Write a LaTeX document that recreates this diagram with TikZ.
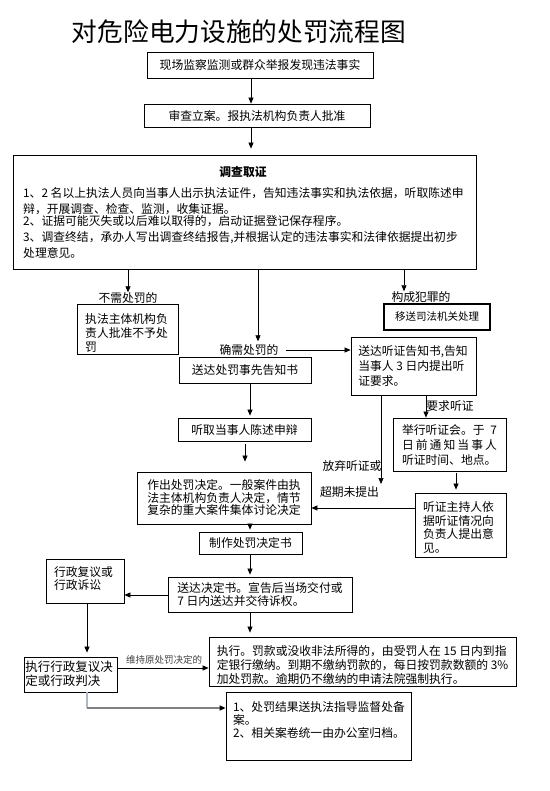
\documentclass[tikz,border=0pt]{standalone}
\usepackage{fontspec}
\setmainfont{Noto Sans CJK SC}
\usetikzlibrary{arrows.meta}
\begin{document}
\begin{tikzpicture}[x=1pt,y=-1pt,
  box/.style={draw=black, line width=0.8pt, inner sep=0pt, font=\fontsize{11.8pt}{14pt}\selectfont},
  txt/.style={inner sep=0pt, align=left, font=\fontsize{11.8pt}{#1}\selectfont},
  txt/.default=14pt,
  line/.style={inner sep=0pt, anchor=west, font=\fontsize{11.8pt}{14pt}\selectfont},
  lab/.style={inner sep=0pt, font=\fontsize{11.8pt}{14pt}\selectfont},
  arr/.style={draw=black, line width=0.7pt, -{Triangle[length=6pt,width=5pt]}},
]
\useasboundingbox (0,0) rectangle (549,791);
\fill[white] (0,0) rectangle (549,791);

% title
\node[inner sep=0pt, font=\fontsize{25.7pt}{28pt}\selectfont] (title) at (239,32) {对危险电力设施的处罚流程图};

% column coordinates
\coordinate (c87) at (87,0);
\coordinate (c128) at (128,0);
\coordinate (c245) at (245,0);
\coordinate (c250) at (250,0);
\coordinate (c251) at (251,0);
\coordinate (c258) at (258,0);
\coordinate (c404) at (404,0);
\coordinate (c426) at (426,0);
\coordinate (c456) at (456,0);
\coordinate (r508) at (0,508);
\coordinate (r595) at (0,595);
\coordinate (r668) at (0,668);

% boxes
\node[box, minimum width=226pt, minimum height=26pt] (B1) at (260,65) {现场监察监测或群众举报发现违法事实};
\node[box, minimum width=226pt, minimum height=23pt] (B2) at (257,115.5) {审查立案。报执法机构负责人批准};
\node[box, minimum width=463pt, minimum height=114pt] (B3) at (244.5,212) {};
\node[box, minimum width=101pt, minimum height=50pt] (B4) at (127.5,329) {};
\node[box, line width=2pt, minimum width=106pt, minimum height=26pt, font=\fontsize{10.5pt}{12pt}\selectfont] (B5) at (437,317) {移送司法机关处理};
\node[box, minimum width=125pt, minimum height=58pt] (B6) at (413.5,366) {};
\node[box, minimum width=132pt, minimum height=26pt] (B7) at (245,370) {送达处罚事先告知书};
\node[box, minimum width=133pt, minimum height=23pt] (B8) at (244.5,429.5) {听取当事人陈述申辩};
\node[box, minimum width=113pt, minimum height=53pt] (B9) at (449.5,444.5) {};
\node[box, minimum width=91pt, minimum height=64pt] (B10) at (460.5,525) {};
\node[box, minimum width=174pt, minimum height=52pt] (B11) at (224,498) {};
\node[box, minimum width=103pt, minimum height=22pt] (B12) at (250.5,543) {制作处罚决定书};
\node[box, minimum width=184pt, minimum height=35pt] (B13) at (260,594.5) {};
\node[box, minimum width=78pt, minimum height=44pt] (B14) at (85,581) {};
\node[box, minimum width=93pt, minimum height=35pt] (B15) at (70.5,674.5) {};
\node[box, minimum width=307pt, minimum height=49pt] (B16) at (362.5,661.5) {};
\node[box, minimum width=185pt, minimum height=68pt] (B17) at (318.5,726) {};

% texts of box 3
\node[lab, font=\fontsize{11.8pt}{14pt}\selectfont\bfseries] (T3t) at (243,172) {调查取证};
\node[line] (T3a) at (23,193) {1、2 名以上执法人员向当事人出示执法证件，告知违法事实和执法依据，听取陈述申};
\node[line] (T3b) at (23,209) {辩，开展调查、检查、监测，收集证据。};
\node[line] (T3c) at (23,221.5) {2、证据可能灭失或以后难以取得的，启动证据登记保存程序。};
\node[line] (T3d) at (23,238) {3、调查终结，承办人写出调查终结报告,并根据认定的违法事实和法律依据提出初步};
\node[line] (T3e) at (23,253) {处理意见。};

% multi-line box texts
\node[txt=14pt] (T4) at (126.5,333) {执法主体机构负\\责人批准不予处\\罚};
\node[txt=15pt] (T6) at (413,366) {送达听证告知书,告知\\当事人 3 日内提出听\\证要求。};
\node[txt=15pt] (T9) at (449.5,445) {\makebox[95pt][s]{举行听证会。于\hfill 7}\\\makebox[95pt][s]{日\hfill 前\hfill 通\hfill 知\hfill 当\hfill 事\hfill 人}\\听证时间、地点。};
\node[txt=13.7pt] (T10) at (458.5,527.5) {听证主持人依\\据听证情况向\\负责人提出意\\见。};
\node[txt=12.5pt] (T11) at (224,497.5) {作出处罚决定。一般案件由执\\法主体机构负责人决定，情节\\复杂的重大案件集体讨论决定};
\node[txt=13pt] (T13) at (260,594.5) {送达决定书。宣告后当场交付或\\7 日内送达并交待诉权。};
\node[txt=13pt] (T14) at (83.5,578.5) {行政复议或\\行政诉讼};
\node[inner sep=0pt, align=left, font=\fontsize{12.5pt}{14pt}\selectfont] (T15) at (69,674) {执行行政复议决\\定或行政判决};
\node[txt=14pt] (T16) at (362.5,665) {执行。罚款或没收非法所得的，由受罚人在 15 日内到指\\定银行缴纳。到期不缴纳罚款的，每日按罚款数额的 3\%\\加处罚款。逾期仍不缴纳的申请法院强制执行。};
\node[txt=13pt] (T17) at (319,720) {1、处罚结果送执法指导监督处备\\案。\\2、相关案卷统一由办公室归档。};

% labels
\node[lab] (L1) at (128,298) {不需处罚的};
\node[lab] (L2) at (249,350) {确需处罚的};
\node[lab] (L3) at (421,297) {构成犯罪的};
\node[lab] (L4) at (450,406) {要求听证};
\node[lab] (L5) at (352,466) {放弃听证或};
\node[lab] (L6) at (349.5,492) {超期未提出};
\node[lab, font=\fontsize{9.5pt}{11pt}\selectfont, text=black!75] (L7) at (164,660) {维持原处罚决定的};

\coordinate (E1) at (381,484);
\coordinate (K1) at (87,708);

% connectors
\draw[arr] (B1.south -| c251) -- (B2.north -| c251);
\draw[arr, shorten >=6pt] (B2.south -| c251) -- (B3.north -| c251);
\draw[arr] (B3.south -| c128) -- (L1.north -| c128);
\draw[arr, shorten >=3pt] (B3.south -| c258) -- (L2.north -| c258);
\draw[arr, shorten <=7pt] (L2.east) -- (L2.east -| B6.west);
\draw[arr] (B3.south -| c404) -- (L3.north -| c404);
\draw[arr, shorten >=2pt] (B7.south -| c250) -- (B8.north -| c250);
\draw[arr, shorten <=3pt, shorten >=10pt] (B8.south -| c245) -- (B11.north -| c245);
\draw[arr, shorten >=2pt] (B11.south -| c250) -- (B12.north -| c250);
\draw[arr, shorten >=2pt] (B12.south -| c250) -- (B13.north -| c250);
\draw[arr] (B13.west |- r595) -- (B14.east |- r595);
\draw[arr, shorten >=4pt] (B14.south -| c87) -- (B15.north -| c87);
\draw[arr] (B15.east |- r668) -- (B16.west |- r668);
\draw[arr, shorten >=4pt] (B13.south -| c250) -- (B16.north -| c250);
\draw[line width=1.2pt, draw={rgb,255:red,170;green,185;blue,200}] (B15.south -| K1) -- (K1);
\draw[line width=1.8pt, draw=black!50, -{Triangle[length=6pt,width=5pt,black]}] (K1) -- (K1 -| B17.west);
\draw[arr] (B6.south -| E1) -- (E1);
\draw[arr] (B6.south -| c426) -- (B9.north -| c426);
\draw[arr, shorten <=2pt, shorten >=3pt] (B9.south -| c456) -- (B10.north -| c456);
\draw[arr] (B10.west |- r508) -- (B11.east |- r508);
\end{tikzpicture}
\end{document}
